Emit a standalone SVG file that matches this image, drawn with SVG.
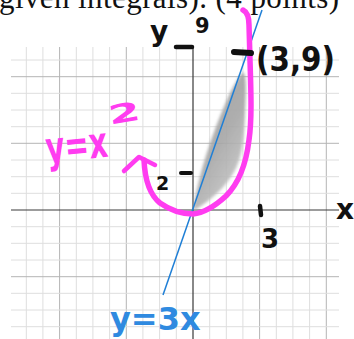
<svg xmlns="http://www.w3.org/2000/svg" width="354" height="339" viewBox="0 0 354 339">
<defs>
<style>
.minor{stroke:#dedede;stroke-width:1;fill:none}
.major{stroke:#b4b4b4;stroke-width:1;fill:none}
.axis{stroke:#3a3a3a;stroke-width:1.2;fill:none}
.ink{fill:#111;font-family:"DejaVu Sans",sans-serif;font-weight:bold}
.pink{fill:#ff3cf0;font-family:"DejaVu Sans",sans-serif;font-weight:bold}
.blue{fill:#2f8ae0;font-family:"DejaVu Sans",sans-serif;font-weight:bold}
.pinkstroke{stroke:#ff3cf0;fill:none;stroke-linecap:round;stroke-linejoin:round}
.inkstroke{stroke:#111;fill:none;stroke-linecap:round}
</style>
<linearGradient id="shade" x1="0" y1="0" x2="0.6" y2="1">
<stop offset="0" stop-color="#9a9a9a"/>
<stop offset="0.6" stop-color="#a6a6a6"/>
<stop offset="1" stop-color="#c6c6c6"/>
</linearGradient>
<filter id="soft" x="-20%" y="-20%" width="140%" height="140%"><feGaussianBlur stdDeviation="1.4"/></filter>
</defs>
<rect width="354" height="339" fill="#fff"/>
<text x="-1" y="8" font-family="'Liberation Serif',serif" font-size="31" fill="#111" textLength="340" lengthAdjust="spacing">given integrals). (4 points)</text>
<g id="grid">
<path class="minor" d="M26.3 47V339M42.9 47V339M76.3 47V339M92.9 47V339M109.6 47V339M142.9 47V339M159.6 47V339M176.3 47V339M209.7 47V339M226.3 47V339M242.9 47V339M276.3 47V339M292.9 47V339M309.6 47V339"/>
<path class="major" d="M59.6 47V339M126.3 47V339M259.6 47V339M326.3 47V339"/>
<path class="minor" d="M11 60H339M11 93.3H339M11 110H339M11 126.7H339M11 160H339M11 176.7H339M11 193.3H339M11 226.7H339M11 243.3H339M11 260H339M11 293.3H339M11 310H339M11 326.7H339"/>
<path class="major" d="M11 76.7H339M11 143.3H339M11 276.7H339"/>
<path class="axis" d="M193 48V339M11 210H339"/>
</g>
<g id="region">
<path d="M193 211C197 182 209 142 224 107C231 90 237 79 243 72C247 77 246 92 245 112C244 140 242 155 236 168C228 185 212 200 193 211Z" fill="url(#shade)" filter="url(#soft)" opacity="0.9"/>
</g>
<g id="connectors">
<line id="line-y3x" x1="163" y1="295" x2="262" y2="10" stroke="#1f7fd6" stroke-width="1.5"/>
<path id="curve-yx2" class="pinkstroke" stroke-width="5.5" d="M243 10C247 12 249 17 249 25L250 60C251 92 252 120 249 140C246 165 238 184 226 196C214 207 203 213 193 214C182 214 170 210 160 203C150 195 145 182 144 160"/>
<polyline class="pinkstroke" stroke-width="4.5" points="124,171 139,157 155,165"/>
</g>
<g id="labels">
<text class="ink" x="150" y="41" font-size="28">y</text>
<line class="inkstroke" x1="176" y1="47" x2="192" y2="47" stroke-width="4.5"/>
<text class="ink" x="195" y="33" font-size="21">9</text>
<line class="inkstroke" x1="234" y1="52" x2="251" y2="53" stroke-width="6"/>
<text class="ink" x="256" y="71" font-size="33" textLength="79" lengthAdjust="spacingAndGlyphs">(3,9)</text>
<text class="ink" x="156" y="190" font-size="19">2</text>
<line class="inkstroke" x1="181" y1="173" x2="191" y2="173" stroke-width="4"/>
<text class="ink" x="336" y="219" font-size="28">x</text>
<line class="inkstroke" x1="260" y1="206" x2="261" y2="215" stroke-width="4.5"/>
<text class="ink" x="261" y="248" font-size="26">3</text>
<text class="pink" x="46" y="160" font-size="43" textLength="62" lengthAdjust="spacingAndGlyphs" transform="rotate(-6 75 150)">y=x</text>
<text class="pink" x="108" y="122" font-size="26" textLength="32" lengthAdjust="spacingAndGlyphs" transform="rotate(-10 125 112)">2</text>
<text class="blue" x="110" y="330" font-size="32">y=3x</text>
</g>
</svg>
